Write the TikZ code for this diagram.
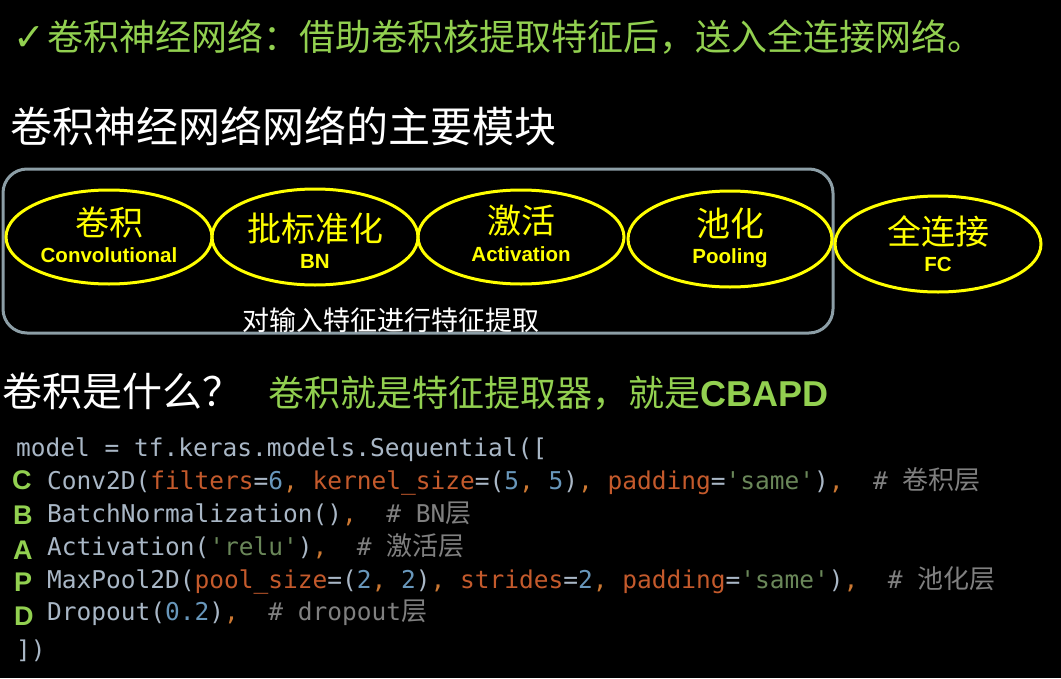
\documentclass[tikz,border=0pt]{standalone}
\usepackage{fontspec}
\setmainfont{Liberation Sans}
\setmonofont{DejaVu Sans Mono}
\newfontfamily\cjk{Noto Sans CJK SC}
\newfontfamily\symf{DejaVu Sans}
\usetikzlibrary{shapes.geometric}
\definecolor{tgreen}{HTML}{92D050}
\definecolor{eyel}{HTML}{FFFF00}
\definecolor{boxc}{HTML}{8C9EA6}
\definecolor{cdef}{HTML}{A9B7C6}
\definecolor{ckwc}{HTML}{C45A2C}
\definecolor{cnumc}{HTML}{6897BB}
\definecolor{cstrc}{HTML}{6A8759}
\definecolor{ccomc}{HTML}{808080}
\definecolor{cpunc}{HTML}{CC7832}
\newcommand{\ckw}[1]{\textcolor{ckwc}{#1}}
\newcommand{\cnm}[1]{\textcolor{cnumc}{#1}}
\newcommand{\cst}[1]{\textcolor{cstrc}{#1}}
\newcommand{\ccm}[1]{\textcolor{ccomc}{#1}}
\newcommand{\cpu}[1]{\textcolor{cpunc}{#1}}
\newcommand{\ccj}[1]{{\cjk\fontsize{26}{28}\selectfont #1}}
\tikzset{
  txt/.style={inner sep=0pt, anchor=base west},
  modell/.style={draw=eyel, line width=3pt, ellipse, inner sep=0pt},
  zh/.style={inner sep=0pt, text=eyel, font=\cjk\fontsize{34}{36}\selectfont},
  en/.style={inner sep=0pt, text=eyel, font=\bfseries\fontsize{20.5}{22}\selectfont},
  codeln/.style={inner sep=0pt, anchor=base west, text=cdef, font=\ttfamily\fontsize{24.5}{26}\selectfont},
  letter/.style={inner sep=0pt, anchor=base west, text=tgreen, font=\bfseries\fontsize{27}{29}\selectfont},
  groupbox/.style={draw=boxc, line width=3pt, rounded corners=24pt, inner sep=0pt}
}
\begin{document}
\begin{tikzpicture}[x=1pt,y=-1pt]
\fill[black] (0,0) rectangle (1061,678);
\useasboundingbox (0,0) rectangle (1061,678);

% title line
\node[txt, text=tgreen, font=\symf\fontsize{38}{40}\selectfont] (chk) at (13,50) {✓};
\node[txt, text=tgreen, font=\cjk\fontsize{36}{40}\selectfont] (t1) at (47,50) {卷积神经网络：借助卷积核提取特征后，送入全连接网络。};

\node[txt, text=white, font=\cjk\fontsize{42}{46}\selectfont] (t2) at (10,142) {卷积神经网络网络的主要模块};

% group box
\node[groupbox, minimum width=830pt, minimum height=164pt] (grp) at (418,251) {};

% modules
\node[modell, minimum width=206pt, minimum height=94pt] (e1) at (109,237) {};
\node[modell, minimum width=206pt, minimum height=96pt] (e2) at (315,237) {};
\node[modell, minimum width=206pt, minimum height=94pt] (e3) at (521,237) {};
\node[modell, minimum width=204pt, minimum height=96pt] (e4) at (730,239) {};
\node[modell, minimum width=206pt, minimum height=96pt] (e5) at (938,244) {};

\node[zh] (z1) at ([yshift=14pt]e1.center) {卷积};
\node[en] (n1) at ([yshift=-18pt]e1.center) {Convolutional};
\node[zh] (z2) at ([yshift=8pt]e2.center) {批标准化};
\node[en] (n2) at ([yshift=-24pt]e2.center) {BN};
\node[zh] (z3) at ([yshift=16pt]e3.center) {激活};
\node[en] (n3) at ([yshift=-17pt]e3.center) {Activation};
\node[zh] (z4) at ([yshift=15pt]e4.center) {池化};
\node[en] (n4) at ([yshift=-19pt]e4.center) {Pooling};
\node[zh] (z5) at ([yshift=13pt]e5.center) {全连接};
\node[en] (n5) at ([yshift=-20pt]e5.center) {FC};

\node[txt, text=white, font=\cjk\fontsize{27}{30}\selectfont] (sub) at (242,330) {对输入特征进行特征提取};

% question
\node[txt, text=white, font=\cjk\fontsize{40}{44}\selectfont] (q) at (2,406) {卷积是什么？};
\node[txt, text=tgreen, font=\cjk\fontsize{36}{40}\selectfont] (ans) at (268,406) {卷积就是特征提取器，就是{\bfseries\rmfamily CBAPD}};

% code
\node[codeln] (l0) at (16,456) {model = tf.keras.models.Sequential([};
\node[codeln] (l1) at (47,489) {Conv2D(\ckw{filters}=\cnm{6}\cpu{,} \ckw{kernel\_size}=(\cnm{5}\cpu{,} \cnm{5})\cpu{,} \ckw{padding}=\cst{'same'})\cpu{,}~~\ccm{\# \ccj{卷积层}}};
\node[codeln] (l2) at (47,522) {BatchNormalization()\cpu{,}~~\ccm{\# BN\ccj{层}}};
\node[codeln] (l3) at (47,555) {Activation(\cst{'relu'})\cpu{,}~~\ccm{\# \ccj{激活层}}};
\node[codeln] (l4) at (47,588) {MaxPool2D(\ckw{pool\_size}=(\cnm{2}\cpu{,} \cnm{2})\cpu{,} \ckw{strides}=\cnm{2}\cpu{,} \ckw{padding}=\cst{'same'})\cpu{,}~~\ccm{\# \ccj{池化层}}};
\node[codeln] (l5) at (47,620) {Dropout(\cnm{0.2})\cpu{,}~~\ccm{\# dropout\ccj{层}}};
\node[codeln] (l6) at (16,658) {])};

\node[letter] (lc) at (12,489) {C};
\node[letter] (lb) at (13,524) {B};
\node[letter] (la) at (13,559) {A};
\node[letter] (lp) at (14,591) {P};
\node[letter] (ld) at (14,625) {D};
\end{tikzpicture}
\end{document}
